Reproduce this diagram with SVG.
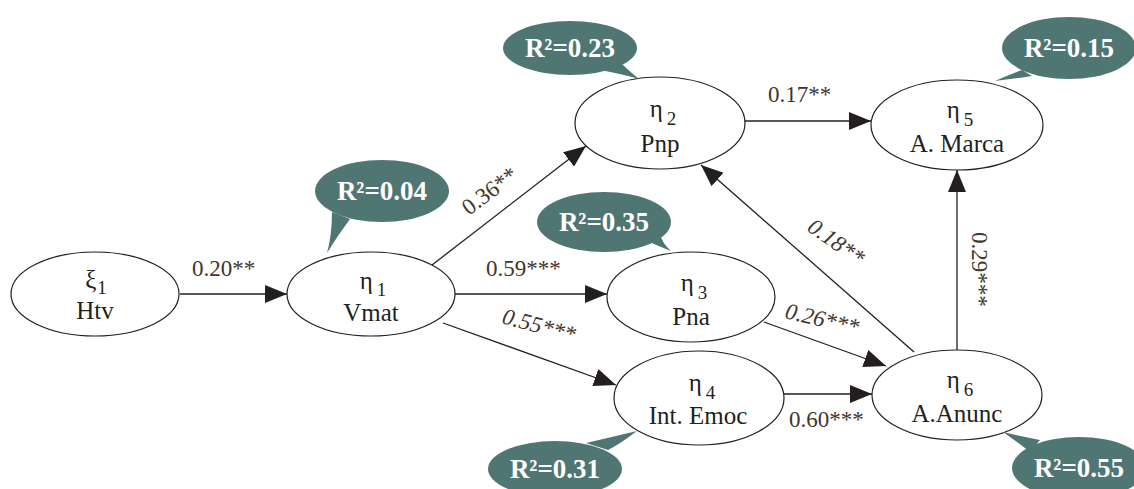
<svg xmlns="http://www.w3.org/2000/svg" width="1134" height="489" viewBox="0 0 1134 489">
  <style>
    .node ellipse { fill: #ffffff; stroke: #231f20; stroke-width: 1.2; }
    .nt { font-family: 'Liberation Serif', 'DejaVu Serif', serif; font-size: 25px; fill: #231f20; text-anchor: middle; }
    .sub { font-size: 19px; }
    .edge { stroke: #231f20; stroke-width: 1.3; fill: none; marker-end: url(#arrow); }
    .el { font-family: 'Liberation Serif', 'DejaVu Serif', serif; font-size: 23px; fill: #42352c; }
    .it { font-style: italic; }
    .bubble { fill: #4f7673; }
    .bt { font-family: 'Liberation Serif', 'DejaVu Serif', serif; font-size: 27px; font-weight: bold; fill: #ffffff; text-anchor: middle; }
  </style>
  <defs>
    <marker id="arrow" markerUnits="userSpaceOnUse" markerWidth="24" markerHeight="20" refX="22" refY="9" orient="auto">
      <path d="M0,0 L22,9 L0,18 Z" fill="#231f20"/>
    </marker>
  </defs>
  <rect width="1134" height="489" fill="#ffffff"/>

  <!-- connectors -->
  <g id="connectors">
    <line class="edge" x1="180" y1="294" x2="287" y2="294"/>
    <line class="edge" x1="432" y1="265" x2="586" y2="146"/>
    <line class="edge" x1="455" y1="294" x2="607" y2="294"/>
    <line class="edge" x1="443" y1="323" x2="616" y2="385"/>
    <line class="edge" x1="745" y1="121" x2="871" y2="121"/>
    <line class="edge" x1="764" y1="322" x2="886" y2="366"/>
    <line class="edge" x1="784" y1="394" x2="872" y2="394"/>
    <line class="edge" x1="914" y1="352" x2="701" y2="165"/>
    <line class="edge" x1="957" y1="350" x2="957" y2="170"/>

    <text class="el" x="192" y="276">0.20**</text>
    <text class="el" transform="translate(469,216) rotate(-37)">0.36**</text>
    <text class="el" x="486" y="276">0.59***</text>
    <text class="el it" transform="translate(501,323) rotate(15)">0.55***</text>
    <text class="el" x="768" y="102">0.17**</text>
    <text class="el it" transform="translate(806,230) rotate(35)">0.18**</text>
    <text class="el it" transform="translate(784,318) rotate(13)">0.26***</text>
    <text class="el" transform="translate(972,232) rotate(90)">0.29***</text>
    <text class="el" x="789" y="427">0.60***</text>
  </g>

  <!-- latent variables -->
  <g id="xi1" class="node">
    <ellipse cx="95" cy="294" rx="84" ry="42"/>
    <text class="nt" x="96" y="288">ξ<tspan class="sub" dx="1" dy="6">1</tspan></text>
    <text class="nt" x="95" y="319">Htv</text>
  </g>
  <g id="eta1" class="node">
    <ellipse cx="371" cy="294" rx="84" ry="42"/>
    <text class="nt" x="373" y="289">η<tspan class="sub" dx="4" dy="7">1</tspan></text>
    <text class="nt" x="371" y="321">Vmat</text>
  </g>
  <g id="eta2" class="node">
    <ellipse cx="660" cy="123" rx="85" ry="46"/>
    <text class="nt" x="663" y="117">η<tspan class="sub" dx="4" dy="8">2</tspan></text>
    <text class="nt" x="660" y="152">Pnp</text>
  </g>
  <g id="eta3" class="node">
    <ellipse cx="691" cy="297" rx="84" ry="45"/>
    <text class="nt" x="694" y="291">η<tspan class="sub" dx="4" dy="8">3</tspan></text>
    <text class="nt" x="691" y="325">Pna</text>
  </g>
  <g id="eta4" class="node">
    <ellipse cx="699" cy="398" rx="85" ry="47"/>
    <text class="nt" x="702" y="391">η<tspan class="sub" dx="4" dy="8">4</tspan></text>
    <text class="nt" x="698" y="424">Int. Emoc</text>
  </g>
  <g id="eta5" class="node">
    <ellipse cx="957" cy="125" rx="86" ry="45"/>
    <text class="nt" x="960" y="118">η<tspan class="sub" dx="4" dy="8">5</tspan></text>
    <text class="nt" x="957" y="152">A. Marca</text>
  </g>
  <g id="eta6" class="node">
    <ellipse cx="957" cy="395" rx="85" ry="45"/>
    <text class="nt" x="960" y="388">η<tspan class="sub" dx="4" dy="8">6</tspan></text>
    <text class="nt" x="957" y="422">A.Anunc</text>
  </g>

  <!-- explained-variance callouts -->
  <g id="r2-eta2">
    <ellipse class="bubble" cx="570" cy="48" rx="67" ry="27"/>
    <path class="bubble" d="M600,70 Q622,74 639,79 Q628,70 622,64 Z"/>
    <text class="bt" x="570" y="57">R²=0.23</text>
  </g>
  <g id="r2-eta1">
    <ellipse class="bubble" cx="382" cy="191" rx="67" ry="31"/>
    <path class="bubble" d="M332,212 Q332,235 327,253 Q338,235 350,219 Z"/>
    <text class="bt" x="382" y="200">R²=0.04</text>
  </g>
  <g id="r2-eta3">
    <ellipse class="bubble" cx="604" cy="222" rx="67" ry="30"/>
    <path class="bubble" d="M645,240 Q658,246 671,251 Q662,243 660,234 Z"/>
    <text class="bt" x="604" y="231">R²=0.35</text>
  </g>
  <g id="r2-eta5">
    <ellipse class="bubble" cx="1069" cy="48" rx="67" ry="31"/>
    <path class="bubble" d="M1022,70 Q1008,75 995,81 Q1012,79 1032,76 Z"/>
    <text class="bt" x="1069" y="57">R²=0.15</text>
  </g>
  <g id="r2-eta4">
    <ellipse class="bubble" cx="555" cy="469" rx="67" ry="28"/>
    <path class="bubble" d="M586,443 Q612,437 637,431 Q620,444 608,450 Z"/>
    <text class="bt" x="555" y="478">R²=0.31</text>
  </g>
  <g id="r2-eta6">
    <ellipse class="bubble" cx="1079" cy="468" rx="67" ry="31"/>
    <path class="bubble" d="M1040,440 Q1020,436 1003,432 Q1020,444 1030,452 Z"/>
    <text class="bt" x="1079" y="477">R²=0.55</text>
  </g>
</svg>
